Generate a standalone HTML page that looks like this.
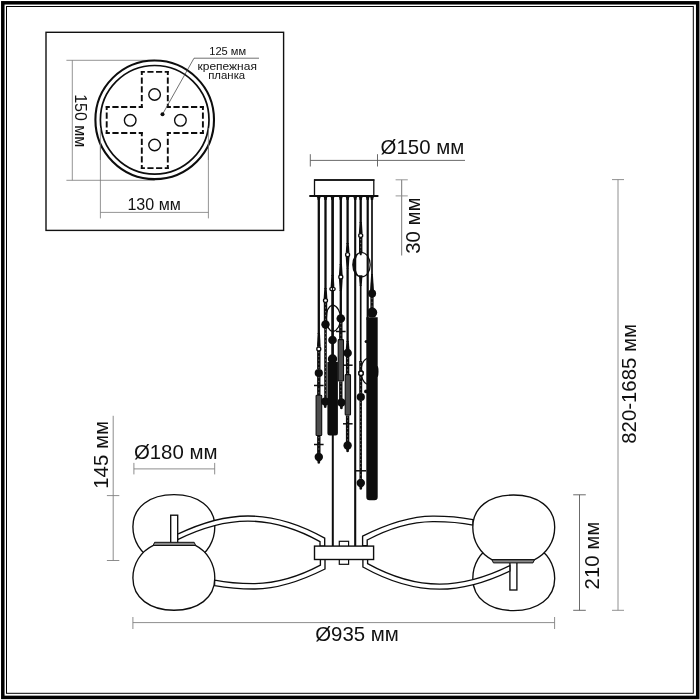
<!DOCTYPE html>
<html lang="ru">
<head>
<meta charset="utf-8">
<title>Схема люстры</title>
<style>
html,body{margin:0;padding:0;background:#fff;}
body{width:700px;height:700px;overflow:hidden;font-family:"Liberation Sans",sans-serif;}
svg{display:block;filter:grayscale(1);}
text{font-family:"Liberation Sans",sans-serif;fill:#111;}
</style>
</head>
<body>
<svg width="700" height="700" viewBox="0 0 700 700">
<rect x="0" y="0" width="700" height="700" fill="#fff"/>

<!-- frame -->
<rect x="2.8" y="2.8" width="694.9" height="694.6" fill="none" stroke="#000" stroke-width="3.5"/>
<rect x="6.5" y="6.5" width="686.8" height="686.8" fill="none" stroke="#000" stroke-width="1"/>
<!-- inset: mounting plate -->
<rect x="46" y="32.3" width="237.6" height="198.1" fill="#fff" stroke="#111" stroke-width="1.4"/>
<g stroke="#7a7a7a" stroke-width="0.8" fill="none">
<path d="M66.4,60.3 H154.7 M66.4,180.3 H154.7 M72.3,60.3 V180.3"/>
<path d="M100.4,120 V218.4 M208.4,120 V218.4 M100.4,212.4 H208.4"/>
</g>
<circle cx="154.7" cy="119.8" r="59.3" fill="#fff" stroke="#0d0d0d" stroke-width="2.1"/>
<circle cx="154.7" cy="119.8" r="54.3" fill="none" stroke="#0d0d0d" stroke-width="1.7"/>
<g stroke="#7a7a7a" stroke-width="0.8"><path d="M100.4,128 V160 M208.4,128 V160" fill="none"/></g>
<g stroke="#0d0d0d" stroke-width="1.9" fill="none" stroke-linecap="square">
<line x1="141.80" y1="71.90" x2="167.80" y2="71.90" stroke-dasharray="4.25 4.41" stroke-dashoffset="2.13"/>
<line x1="167.80" y1="71.90" x2="167.80" y2="107.00" stroke-dasharray="4.33 4.44" stroke-dashoffset="2.17"/>
<line x1="167.80" y1="107.00" x2="202.90" y2="107.00" stroke-dasharray="4.33 4.44" stroke-dashoffset="2.17"/>
<line x1="202.90" y1="107.00" x2="202.90" y2="133.00" stroke-dasharray="4.25 4.41" stroke-dashoffset="2.13"/>
<line x1="202.90" y1="133.00" x2="167.80" y2="133.00" stroke-dasharray="4.33 4.44" stroke-dashoffset="2.17"/>
<line x1="167.80" y1="133.00" x2="167.80" y2="168.10" stroke-dasharray="4.33 4.44" stroke-dashoffset="2.17"/>
<line x1="167.80" y1="168.10" x2="141.80" y2="168.10" stroke-dasharray="4.25 4.41" stroke-dashoffset="2.13"/>
<line x1="141.80" y1="168.10" x2="141.80" y2="133.00" stroke-dasharray="4.33 4.44" stroke-dashoffset="2.17"/>
<line x1="141.80" y1="133.00" x2="106.70" y2="133.00" stroke-dasharray="4.33 4.44" stroke-dashoffset="2.17"/>
<line x1="106.70" y1="133.00" x2="106.70" y2="107.00" stroke-dasharray="4.25 4.41" stroke-dashoffset="2.13"/>
<line x1="106.70" y1="107.00" x2="141.80" y2="107.00" stroke-dasharray="4.33 4.44" stroke-dashoffset="2.17"/>
<line x1="141.80" y1="107.00" x2="141.80" y2="71.90" stroke-dasharray="4.33 4.44" stroke-dashoffset="2.17"/>
</g>
<circle cx="154.6" cy="94.5" r="5.8" fill="#fff" stroke="#0d0d0d" stroke-width="1.4"/>
<circle cx="130.2" cy="120.3" r="5.8" fill="#fff" stroke="#0d0d0d" stroke-width="1.4"/>
<circle cx="180.4" cy="120.3" r="5.8" fill="#fff" stroke="#0d0d0d" stroke-width="1.4"/>
<circle cx="154.6" cy="145" r="5.8" fill="#fff" stroke="#0d0d0d" stroke-width="1.4"/>
<path d="M162.5,114.3 L194,58.2 H259" fill="none" stroke="#333" stroke-width="0.7"/>
<circle cx="162.5" cy="114.3" r="2" fill="#0d0d0d"/>
<text transform="translate(209.2,54.9) scale(1.07,1)" font-size="10.4">125 мм</text>
<text transform="translate(197.5,70.4) scale(1.09,1)" font-size="11">крепежная</text>
<text transform="translate(208.2,78.6) scale(1.055,1)" font-size="10.8">планка</text>
<text transform="translate(75,94.2) rotate(90)" font-size="16">150 мм</text>
<text transform="translate(127.4,209.6) scale(1.02,1)" font-size="15.8">130 мм</text>
<!-- dimensions -->
<g stroke-width="0.9" fill="none">
<path stroke="#5a5a5a" d="M310.3,160.4 H465 M310.3,154.2 V166.5 M377.5,154.2 V166.5"/>
<path stroke="#686868" d="M401.7,179.8 V255.5"/><path stroke="#8c8c8c" d="M395.6,179.8 H407.8 M395.6,195.9 H407.8"/>
<path stroke="#858585" d="M618,179.6 V610.3 M612,179.6 H624 M612,610.3 H624"/>
<path stroke="#5a5a5a" d="M579.5,494.8 V610.3 M573.2,494.8 H585.8 M573.2,610.3 H585.8"/>
<path stroke="#808080" d="M132.9,622.6 H554.6 M132.9,617 V629 M554.6,617 V629"/>
<path stroke="#808080" d="M133.9,468.9 H214.7 M133.9,462.9 V474.4 M214.7,462.9 V474.4"/>
<path stroke="#808080" d="M113.2,415.8 V560.5 M106.9,495.6 H119.3 M106.9,560.5 H119.3"/>
</g>
<text transform="translate(380.6,154.2)" font-size="20.4">Ø150 мм</text>
<text transform="translate(133.9,458.6)" font-size="20.4">Ø180 мм</text>
<text transform="translate(315.2,641.2)" font-size="20.4">Ø935 мм</text>
<text transform="translate(107.6,488.8) rotate(-90)" font-size="20.4">145 мм</text>
<text transform="translate(420,253.8) rotate(-90)" font-size="20.4">30 мм</text>
<text transform="translate(636.1,443.8) rotate(-90)" font-size="20.4">820-1685 мм</text>
<text transform="translate(599.1,589.4) rotate(-90)" font-size="20.4">210 мм</text>
<!-- arms and globes: left side, right side is 180deg rotation -->
<g id="sideL">
<path d="M153.4,559.4 C140.5,553.3 132.9,540.8 132.9,526.8 C132.9,506.8 150,494.6 174,494.6 C198,494.6 214.8,506.8 214.8,526.8 C214.8,540.8 207.5,553.3 195.4,559.4" fill="#fff" stroke="#0d0d0d" stroke-width="1.35"/>
<rect x="170.7" y="515.2" width="7.0" height="28" fill="#fff" stroke="#0d0d0d" stroke-width="1.35"/>
<path d="M177.7,534.2 C198,524.5 222,516 248,516 C276,516 302,525.5 324.7,538.2 V546.2 H320 V541.6 C299,530 275,521.1 248,521.1 C222,521.1 198,529.6 177.7,539.6 Z" fill="#fff" stroke="#0d0d0d" stroke-width="1.35" stroke-linejoin="miter"/>
<path d="M214.6,580.1 C228,582.8 241,583.7 255,583.6 C279,583.3 301,575.5 320.4,565.2 V559.4 H325 V569 C302,580.5 279,588.8 255,589 C241,589.1 228,588 214.6,585.6 Z" fill="#fff" stroke="#0d0d0d" stroke-width="1.35" stroke-linejoin="miter"/>
<path d="M153.4,545.4 C140.5,551.5 132.9,564 132.9,578 C132.9,598 150,610.2 174,610.2 C198,610.2 214.8,598 214.8,578 C214.8,564 207.5,551.5 195.4,545.4 Z" fill="#fff" stroke="#0d0d0d" stroke-width="1.35"/>
<path d="M154.6,542.3 H194.2 L195.6,545.4 H153.2 Z" fill="#8a8a8a" stroke="#0d0d0d" stroke-width="1"/>
</g>
<g transform="rotate(180 343.8 552.6)">
<path d="M153.4,559.4 C140.5,553.3 132.9,540.8 132.9,526.8 C132.9,506.8 150,494.6 174,494.6 C198,494.6 214.8,506.8 214.8,526.8 C214.8,540.8 207.5,553.3 195.4,559.4" fill="#fff" stroke="#0d0d0d" stroke-width="1.35"/>
<rect x="170.7" y="515.2" width="7.0" height="28" fill="#fff" stroke="#0d0d0d" stroke-width="1.35"/>
<path d="M177.7,534.2 C198,524.5 222,516 248,516 C276,516 302,525.5 324.7,538.2 V546.2 H320 V541.6 C299,530 275,521.1 248,521.1 C222,521.1 198,529.6 177.7,539.6 Z" fill="#fff" stroke="#0d0d0d" stroke-width="1.35" stroke-linejoin="miter"/>
<path d="M214.6,580.1 C228,582.8 241,583.7 255,583.6 C279,583.3 301,575.5 320.4,565.2 V559.4 H325 V569 C302,580.5 279,588.8 255,589 C241,589.1 228,588 214.6,585.6 Z" fill="#fff" stroke="#0d0d0d" stroke-width="1.35" stroke-linejoin="miter"/>
<path d="M153.4,545.4 C140.5,551.5 132.9,564 132.9,578 C132.9,598 150,610.2 174,610.2 C198,610.2 214.8,598 214.8,578 C214.8,564 207.5,551.5 195.4,545.4 Z" fill="#fff" stroke="#0d0d0d" stroke-width="1.35"/>
<path d="M154.6,542.3 H194.2 L195.6,545.4 H153.2 Z" fill="#8a8a8a" stroke="#0d0d0d" stroke-width="1"/>
</g>
<!-- stem and hub -->
<line x1="332.8" y1="197" x2="332.8" y2="546" stroke="#0d0d0d" stroke-width="2.0"/>
<line x1="355.2" y1="197" x2="355.2" y2="546" stroke="#0d0d0d" stroke-width="2.1"/>
<rect x="339.3" y="541.3" width="9.3" height="23" fill="#fff" stroke="#0d0d0d" stroke-width="1.2"/>
<rect x="314.5" y="546.1" width="59.1" height="13.4" fill="#fff" stroke="#0d0d0d" stroke-width="1.4"/>
<!-- canopy -->
<rect x="314.5" y="180" width="59.3" height="16" fill="#fff" stroke="#0d0d0d" stroke-width="1.3"/>
<line x1="314" y1="180" x2="374.4" y2="180" stroke="#0d0d0d" stroke-width="1.7"/>
<line x1="309.3" y1="196" x2="378.4" y2="196" stroke="#0d0d0d" stroke-width="1.9"/>
<!-- pendants -->
<path d="M316.40000000000003,196.6 Q317.65000000000003,197.2 317.65000000000003,200 H319.95 Q319.95,197.2 321.2,196.6 Z" fill="#0d0d0d"/>
<path d="M323.1,196.6 Q324.35,197.2 324.35,200 H326.65 Q326.65,197.2 327.9,196.6 Z" fill="#0d0d0d"/>
<path d="M330.1,196.6 Q331.35,197.2 331.35,200 H333.65 Q333.65,197.2 334.9,196.6 Z" fill="#0d0d0d"/>
<path d="M338.40000000000003,196.6 Q339.65000000000003,197.2 339.65000000000003,200 H341.95 Q341.95,197.2 343.2,196.6 Z" fill="#0d0d0d"/>
<path d="M345.20000000000005,196.6 Q346.45000000000005,197.2 346.45000000000005,200 H348.75 Q348.75,197.2 350.0,196.6 Z" fill="#0d0d0d"/>
<path d="M352.8,196.6 Q354.05,197.2 354.05,200 H356.34999999999997 Q356.34999999999997,197.2 357.59999999999997,196.6 Z" fill="#0d0d0d"/>
<path d="M358.3,196.6 Q359.55,197.2 359.55,200 H361.84999999999997 Q361.84999999999997,197.2 363.09999999999997,196.6 Z" fill="#0d0d0d"/>
<path d="M365.3,196.6 Q366.55,197.2 366.55,200 H368.84999999999997 Q368.84999999999997,197.2 370.09999999999997,196.6 Z" fill="#0d0d0d"/>
<path d="M369.6,196.6 Q370.85,197.2 370.85,200 H373.15 Q373.15,197.2 374.4,196.6 Z" fill="#0d0d0d"/>
<line x1="318.8" y1="197" x2="318.8" y2="334" stroke="#0d0d0d" stroke-width="2.3"/>
<polygon points="317.65000000000003,333 319.95,333 320.65000000000003,346.8 316.95,346.8" fill="#0d0d0d"/>
<line x1="318.8" y1="351" x2="318.8" y2="369" stroke="#0d0d0d" stroke-width="3.4"/>
<line x1="318.8" y1="352" x2="318.8" y2="368.5" stroke="#b0b0b0" stroke-width="0.6" stroke-dasharray="1.2 2.6"/>
<circle cx="318.8" cy="349" r="2.0" fill="#fff" stroke="#0d0d0d" stroke-width="1.3"/>
<line x1="318.8" y1="376" x2="318.8" y2="395.5" stroke="#0d0d0d" stroke-width="3.4"/>
<line x1="318.8" y1="377" x2="318.8" y2="395.0" stroke="#b0b0b0" stroke-width="0.6" stroke-dasharray="1.2 2.6"/>
<circle cx="318.8" cy="373" r="4.1" fill="#0d0d0d"/>
<line x1="314" y1="385.5" x2="323.6" y2="385.5" stroke="#0d0d0d" stroke-width="1.5"/>
<rect x="316.1" y="395.2" width="5.599999999999966" height="40.30000000000001" rx="0.8" fill="#4c4c4c" stroke="#0d0d0d" stroke-width="1.1"/>
<line x1="318.8" y1="436" x2="318.8" y2="453" stroke="#0d0d0d" stroke-width="3.4"/>
<line x1="318.8" y1="437" x2="318.8" y2="452.5" stroke="#b0b0b0" stroke-width="0.6" stroke-dasharray="1.2 2.6"/>
<line x1="314" y1="444.5" x2="323.6" y2="444.5" stroke="#0d0d0d" stroke-width="1.5"/>
<circle cx="318.8" cy="457" r="4.2" fill="#0d0d0d"/>
<path d="M317.3,460.2 L320.3,460.2 L320.0,463.2 Q318.8,464.09999999999997 317.6,463.2 Z" fill="#0d0d0d"/>
<line x1="325.5" y1="197" x2="325.5" y2="289" stroke="#0d0d0d" stroke-width="2.3"/>
<polygon points="324.35,288 326.65,288 327.35,298.3 323.65,298.3" fill="#0d0d0d"/>
<line x1="325.5" y1="302.5" x2="325.5" y2="321" stroke="#0d0d0d" stroke-width="3.4"/>
<line x1="325.5" y1="303.5" x2="325.5" y2="320.5" stroke="#b0b0b0" stroke-width="0.6" stroke-dasharray="1.2 2.6"/>
<circle cx="325.5" cy="300.5" r="2.0" fill="#fff" stroke="#0d0d0d" stroke-width="1.3"/>
<line x1="325.5" y1="328" x2="325.5" y2="398" stroke="#0d0d0d" stroke-width="2.6"/>
<line x1="325.5" y1="329" x2="325.5" y2="397.5" stroke="#b0b0b0" stroke-width="0.6" stroke-dasharray="1.2 2.6"/>
<circle cx="325.5" cy="324.5" r="4.2" fill="#0d0d0d"/>
<circle cx="325.2" cy="401.5" r="4.1" fill="#0d0d0d"/>
<path d="M323.7,404.6 L326.7,404.6 L326.4,407.6 Q325.2,408.5 324.0,407.6 Z" fill="#0d0d0d"/>
<line x1="332.5" y1="197" x2="332.5" y2="276" stroke="#0d0d0d" stroke-width="2.3"/>
<polygon points="331.35,275 333.65,275 334.35,287 330.65,287" fill="#0d0d0d"/>
<ellipse cx="332.5" cy="289" rx="2.7" ry="1.7" fill="#fff" stroke="#0d0d0d" stroke-width="1.2"/>
<line x1="332.5" y1="287.4" x2="332.5" y2="290.6" stroke="#0d0d0d" stroke-width="1"/>
<line x1="332.5" y1="291" x2="332.5" y2="356" stroke="#0d0d0d" stroke-width="2.4"/>
<path d="M332.7,304.9 C337.6,306.2 340.6,312 340.6,318.3 C340.6,324.8 337.6,330.4 332.9,331.7 C328.6,330.4 326.4,324.8 326.4,318.3 C326.4,312 328.4,306.2 332.7,304.9 Z" fill="none" stroke="#0d0d0d" stroke-width="1.3"/>
<circle cx="332.5" cy="340" r="4.3" fill="#0d0d0d"/>
<circle cx="332.5" cy="359" r="4.7" fill="#0d0d0d"/>
<path d="M327.4,362 L337.9,362 L337.9,433.1 Q337.9,435.6 335.4,435.6 L329.9,435.6 Q327.4,435.6 327.4,433.1 Z" fill="#0d0d0d"/>
<line x1="340.8" y1="197" x2="340.8" y2="265" stroke="#0d0d0d" stroke-width="2.3"/>
<polygon points="339.65000000000003,264 341.95,264 342.65000000000003,275 338.95,275" fill="#0d0d0d"/>
<circle cx="340.8" cy="277" r="2.0" fill="#fff" stroke="#0d0d0d" stroke-width="1.3"/>
<polygon points="339.65000000000003,291 341.95,291 342.65000000000003,279 338.95,279" fill="#0d0d0d"/>
<line x1="340.8" y1="290" x2="340.8" y2="316" stroke="#0d0d0d" stroke-width="2.3"/>
<circle cx="340.8" cy="318.5" r="4.3" fill="#0d0d0d"/>
<line x1="340.8" y1="322" x2="340.8" y2="340" stroke="#0d0d0d" stroke-width="3.4"/>
<line x1="340.8" y1="323" x2="340.8" y2="339.5" stroke="#b0b0b0" stroke-width="0.6" stroke-dasharray="1.2 2.6"/>
<line x1="336" y1="331.5" x2="345.6" y2="331.5" stroke="#0d0d0d" stroke-width="1.5"/>
<rect x="338.2" y="339.6" width="5.300000000000011" height="41.39999999999998" rx="0.8" fill="#4c4c4c" stroke="#0d0d0d" stroke-width="1.1"/>
<line x1="340.8" y1="381.5" x2="340.8" y2="399" stroke="#0d0d0d" stroke-width="3.4"/>
<line x1="340.8" y1="382.5" x2="340.8" y2="398.5" stroke="#b0b0b0" stroke-width="0.6" stroke-dasharray="1.2 2.6"/>
<circle cx="341.4" cy="402.5" r="4.2" fill="#0d0d0d"/>
<path d="M339.9,405.7 L342.9,405.7 L342.59999999999997,408.7 Q341.4,409.59999999999997 340.2,408.7 Z" fill="#0d0d0d"/>
<line x1="347.6" y1="197" x2="347.6" y2="244" stroke="#0d0d0d" stroke-width="2.3"/>
<polygon points="346.45000000000005,243 348.75,243 349.45000000000005,252.6 345.75,252.6" fill="#0d0d0d"/>
<circle cx="347.6" cy="254.7" r="2.0" fill="#fff" stroke="#0d0d0d" stroke-width="1.3"/>
<polygon points="346.45000000000005,268.5 348.75,268.5 349.45000000000005,256.8 345.75,256.8" fill="#0d0d0d"/>
<line x1="347.6" y1="268" x2="347.6" y2="342" stroke="#0d0d0d" stroke-width="2.3"/>
<polygon points="346.45000000000005,341 348.75,341 349.45000000000005,349.5 345.75,349.5" fill="#0d0d0d"/>
<circle cx="347.6" cy="353" r="4.3" fill="#0d0d0d"/>
<line x1="347.6" y1="357" x2="347.6" y2="375" stroke="#0d0d0d" stroke-width="3.4"/>
<line x1="347.6" y1="358" x2="347.6" y2="374.5" stroke="#b0b0b0" stroke-width="0.6" stroke-dasharray="1.2 2.6"/>
<line x1="343.4" y1="365.2" x2="352.6" y2="365.2" stroke="#0d0d0d" stroke-width="1.5"/>
<rect x="345.2" y="374.6" width="5.300000000000011" height="40.39999999999998" rx="0.8" fill="#4c4c4c" stroke="#0d0d0d" stroke-width="1.1"/>
<line x1="347.6" y1="415.5" x2="347.6" y2="442" stroke="#0d0d0d" stroke-width="3.4"/>
<line x1="347.6" y1="416.5" x2="347.6" y2="441.5" stroke="#b0b0b0" stroke-width="0.6" stroke-dasharray="1.2 2.6"/>
<line x1="343" y1="423.8" x2="352.6" y2="423.8" stroke="#0d0d0d" stroke-width="1.5"/>
<circle cx="347.6" cy="445.5" r="4.2" fill="#0d0d0d"/>
<path d="M346.1,448.7 L349.1,448.7 L348.8,451.7 Q347.6,452.59999999999997 346.40000000000003,451.7 Z" fill="#0d0d0d"/>
<line x1="360.7" y1="197" x2="360.7" y2="223" stroke="#0d0d0d" stroke-width="2.3"/>
<polygon points="359.55,222 361.84999999999997,222 362.55,233 358.84999999999997,233" fill="#0d0d0d"/>
<line x1="360.7" y1="238" x2="360.7" y2="253" stroke="#0d0d0d" stroke-width="3.4"/>
<line x1="360.7" y1="239" x2="360.7" y2="252.5" stroke="#b0b0b0" stroke-width="0.6" stroke-dasharray="1.2 2.6"/>
<circle cx="360.7" cy="235.5" r="2.0" fill="#fff" stroke="#0d0d0d" stroke-width="1.3"/>
<ellipse cx="361.5" cy="264.7" rx="8.7" ry="12.2" fill="none" stroke="#0d0d0d" stroke-width="1.2"/>
<path d="M361.5,252.5 A8.7,12.2 0 0 0 361.5,276.9 A6.4,12.2 0 0 1 361.5,252.5 Z" fill="#0d0d0d"/>
<path d="M359.09999999999997,250.8 L362.3,250.8 L361.5,255.2 L359.9,255.2 Z" fill="#0d0d0d"/>
<polygon points="359.7,286 361.7,286 362.5,275.2 358.9,275.2" fill="#0d0d0d"/>
<line x1="360.7" y1="285" x2="360.7" y2="362" stroke="#0d0d0d" stroke-width="1.7"/>
<line x1="360.7" y1="361" x2="360.7" y2="393.5" stroke="#0d0d0d" stroke-width="3.0"/>
<line x1="360.7" y1="362" x2="360.7" y2="393.0" stroke="#b0b0b0" stroke-width="0.6" stroke-dasharray="1.2 2.6"/>
<circle cx="361" cy="373.2" r="2.3" fill="#fff" stroke="#0d0d0d" stroke-width="1.3"/>
<circle cx="360.8" cy="397" r="4.1" fill="#0d0d0d"/>
<line x1="360.7" y1="401" x2="360.7" y2="479.5" stroke="#0d0d0d" stroke-width="2.5"/>
<line x1="360.7" y1="402" x2="360.7" y2="479.0" stroke="#b0b0b0" stroke-width="0.6" stroke-dasharray="1.2 2.6"/>
<line x1="355.4" y1="470.8" x2="366.2" y2="470.8" stroke="#0d0d0d" stroke-width="1.5"/>
<circle cx="360.8" cy="483" r="4.2" fill="#0d0d0d"/>
<path d="M359.3,486.2 L362.3,486.2 L362.0,489.2 Q360.8,490.09999999999997 359.6,489.2 Z" fill="#0d0d0d"/>
<path d="M366.9,358.2 A9.2,14 0 0 0 366.9,384.2" fill="none" stroke="#0d0d0d" stroke-width="1.2"/>
<ellipse cx="377.2" cy="371.5" rx="1.3" ry="5.5" fill="#0d0d0d"/>
<circle cx="361" cy="373.2" r="2.2" fill="#fff" stroke="#0d0d0d" stroke-width="1.3"/>
<line x1="367.7" y1="197" x2="367.7" y2="320" stroke="#0d0d0d" stroke-width="2.2"/>
<line x1="372" y1="197" x2="372" y2="275" stroke="#0d0d0d" stroke-width="1.7"/>
<polygon points="371.15,274 372.85,274 373.95,290 370.05,290" fill="#0d0d0d"/>
<circle cx="372.1" cy="293.4" r="4.0" fill="#0d0d0d"/>
<line x1="372" y1="297" x2="372" y2="310" stroke="#0d0d0d" stroke-width="3.2"/>
<line x1="372" y1="298" x2="372" y2="309.5" stroke="#b0b0b0" stroke-width="0.6" stroke-dasharray="1.2 2.6"/>
<circle cx="372.2" cy="312.6" r="5.0" fill="#0d0d0d"/>
<path d="M366.3,317.3 L377.7,317.3 L377.7,497.1 Q377.7,500.3 374.5,500.3 L369.5,500.3 Q366.3,500.3 366.3,497.1 Z" fill="#0d0d0d"/>
<circle cx="366" cy="391.4" r="1.9" fill="#0d0d0d"/>
<circle cx="366.2" cy="341.5" r="1.6" fill="#0d0d0d"/>
</svg>
</body>
</html>
